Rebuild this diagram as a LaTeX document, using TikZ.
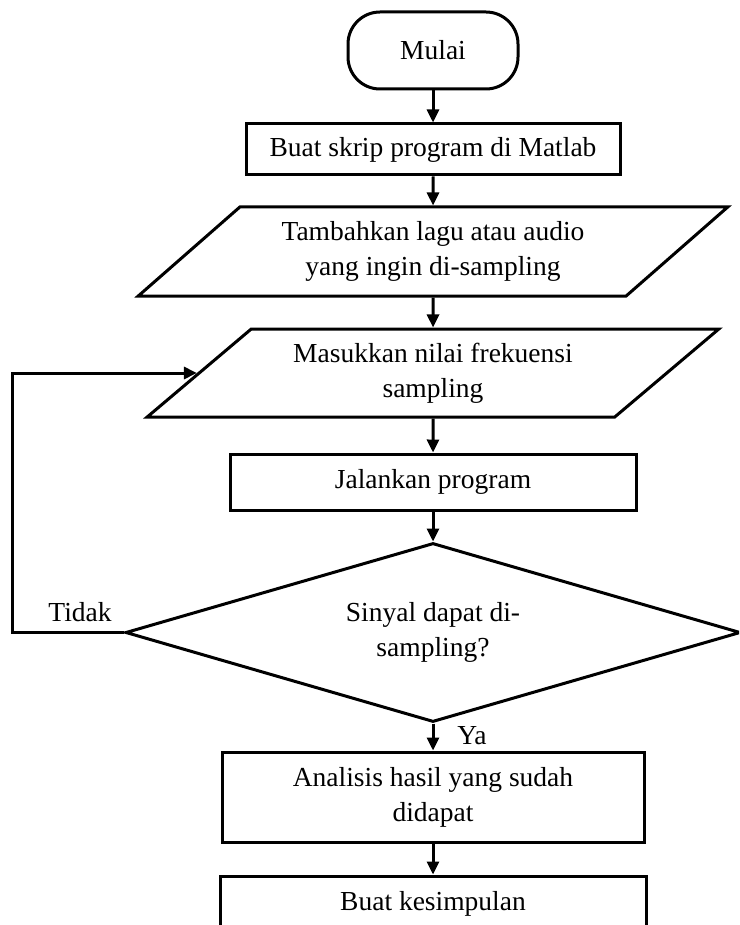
\documentclass[tikz,border=0pt]{standalone}
\usepackage{fontspec}
\setmainfont{Liberation Serif}
\usetikzlibrary{shapes.geometric,arrows.meta}

\tikzset{
	flow/.style={-{Triangle[length=13pt,width=12pt]}},
	process/.style={draw, rectangle, inner sep=0, align=center},
	datain/.style={draw, trapezium, trapezium left angle=37, trapezium right angle=143,
	               trapezium stretches=true, inner sep=0, align=center},
	decision/.style={draw, diamond, aspect=3.4, inner sep=0, align=center},
	terminal/.style={draw, rectangle, rounded corners=32pt, inner sep=0},
}

\begin{document}
\begin{tikzpicture}[x=1pt, y=-1pt, line width=3pt, font=\fontsize{27.5}{35}\selectfont]
	\pgfmathsetmacro{\midx}{433}
	
	\useasboundingbox (0,0) rectangle (739,925);
	\clip (0,0) rectangle (739,925);
	
	% Start
	\node (mulai) at (\midx, 50.5)
	      [ terminal
	      , minimum width=170pt
	      , minimum height=77pt]
	      {Mulai};
	
	% Main column
	\node (skrip) at (\midx, 149.5)
	      [ process
	      , minimum width=374pt
	      , minimum height=51pt]
	      {Buat skrip program di Matlab};
	\node (lagu) at (\midx, 251.5)
	      [ datain
	      , minimum width=593pt
	      , minimum height=89pt]
	      {Tambahkan lagu atau audio\\yang ingin di-sampling};
	\node (frek) at (\midx, 373)
	      [ datain
	      , minimum width=572pt
	      , minimum height=88pt]
	      {Masukkan nilai frekuensi\\sampling};
	\node (jalan) at (\midx, 482)
	      [ process
	      , minimum width=406pt
	      , minimum height=56pt]
	      {Jalankan program};
	\node (sinyal) at (\midx, 632.5)
	      [ decision
	      , minimum width=615pt
	      , minimum height=179pt]
	      {Sinyal dapat di-\\sampling?};
	\node (analisis) at (\midx, 797)
	      [ process
	      , minimum width=422pt
	      , minimum height=90pt]
	      {Analisis hasil yang sudah\\didapat};
	\node (simpulan) at (\midx, 904)
	      [ process
	      , minimum width=426pt
	      , minimum height=56pt]
	      {Buat kesimpulan};
	
	% Branch labels
	\node (tidak) at (80, 612) {Tidak};
	\node (ya) at (472, 736) {Ya};
	
	% Links down the column
	\foreach \a/\b in {mulai/skrip, skrip/lagu, lagu/frek, frek/jalan,
	                   jalan/sinyal, sinyal/analisis, analisis/simpulan}{
		\draw [flow] (\a.south) -- (\b.north);
	}
	
	% Loop back when sampling fails
	\draw [flow] (sinyal.west) -- ++(-112,0) |- (frek.west);
	
\end{tikzpicture}
\end{document}
